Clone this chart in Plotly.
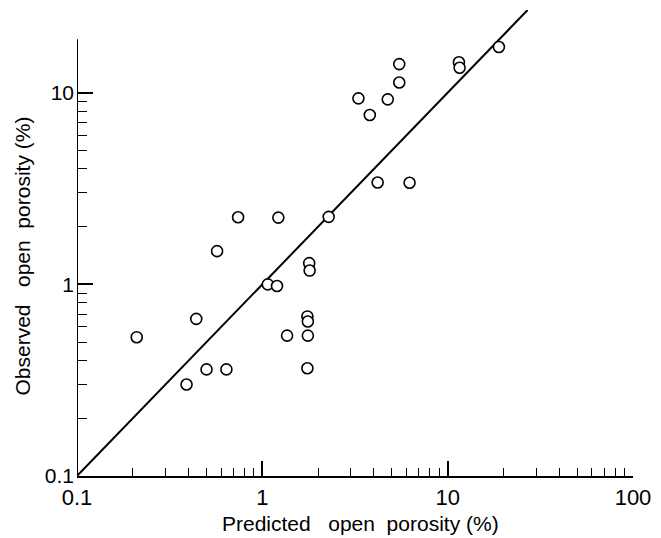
import numpy as np
import plotly.graph_objects as go

# Data
predicted = [0.74, 1.22, 2.28, 0.57, 1.79, 1.80, 1.07, 1.20, 0.44, 1.75, 1.76, 0.21, 1.36, 1.76,
             0.50, 0.64, 1.75, 0.39, 5.48, 11.5, 11.6, 18.9, 5.48, 3.30, 4.75, 3.80, 4.19, 6.23]
observed = [2.24, 2.23, 2.25, 1.49, 1.29, 1.18, 1.00, 0.98, 0.66, 0.68, 0.64, 0.53, 0.54, 0.54,
            0.36, 0.36, 0.365, 0.30, 14.1, 14.4, 13.5, 17.3, 11.3, 9.34, 9.23, 7.65, 3.40, 3.39]
line_ends = [0.1, 27]

x_major = [0.1, 1, 10, 100]
x_major_text = ["0.1", "1", "10", "100"]
y_major = [0.1, 1, 10]
y_major_text = ["0.1", "1", "10"]
x_minor = [m * 10.0 ** k for k in (-1, 0, 1) for m in range(2, 10)]
y_minor = [m * 10.0 ** k for k in (-1, 0) for m in range(2, 10)]

FONT = "Liberation Sans, Arial, sans-serif"

fig = go.Figure()
fig.add_trace(go.Scatter(x=line_ends, y=line_ends, mode="lines",
                         line=dict(color="black", width=2), cliponaxis=False,
                         hoverinfo="skip"))
fig.add_trace(go.Scatter(x=predicted, y=observed, mode="markers", cliponaxis=False,
                         marker=dict(symbol="circle", size=11, color="white",
                                     line=dict(color="black", width=1.6))))

fig.update_xaxes(type="log", range=[-1, 2], showgrid=False, zeroline=False,
                 showline=True, linecolor="black", linewidth=2,
                 tickmode="array", tickvals=x_major, ticktext=x_major_text,
                 ticks="inside", ticklen=15, tickwidth=1.5, tickcolor="black",
                 ticklabelstandoff=1,
                 minor=dict(tickmode="array", tickvals=x_minor, ticks="inside",
                            ticklen=8, tickwidth=1.3, tickcolor="black", showgrid=False),
                 tickfont=dict(family=FONT, size=22, color="black"))
fig.update_yaxes(type="log", range=[-1, np.log10(line_ends[1])], showgrid=False, zeroline=False,
                 showline=False,
                 tickmode="array", tickvals=y_major, ticktext=y_major_text,
                 ticks="inside", ticklen=16, tickwidth=1.5, tickcolor="black",
                 ticklabelstandoff=2,
                 minor=dict(tickmode="array", tickvals=y_minor, ticks="inside",
                            ticklen=10, tickwidth=1.3, tickcolor="black", showgrid=False),
                 tickfont=dict(family=FONT, size=21, color="black"))

# y axis line (ends below the top of the diagonal, as in the reference)
fig.add_shape(type="line", xref="x", yref="y", x0=0.1, x1=0.1, y0=0.1, y1=19,
              line=dict(color="black", width=2))

fig.add_annotation(text="Predicted&nbsp;&nbsp;&nbsp;open&nbsp;&nbsp;porosity (%)",
                   xref="paper", yref="paper", x=0.51, y=-0.101, xanchor="center", yanchor="middle",
                   showarrow=False, font=dict(family=FONT, size=21, color="black"))
fig.add_annotation(text="Observed&nbsp;&nbsp;&nbsp;open&nbsp;&nbsp;porosity (%)",
                   xref="paper", yref="paper", x=-0.098, y=0.472, xanchor="center", yanchor="middle",
                   textangle=-90, showarrow=False, font=dict(family=FONT, size=21, color="black"))

fig.update_layout(width=661, height=538, showlegend=False,
                  margin=dict(l=77, r=25, t=10, b=62),
                  plot_bgcolor="white", paper_bgcolor="white")

fig.write_html("out.html")
